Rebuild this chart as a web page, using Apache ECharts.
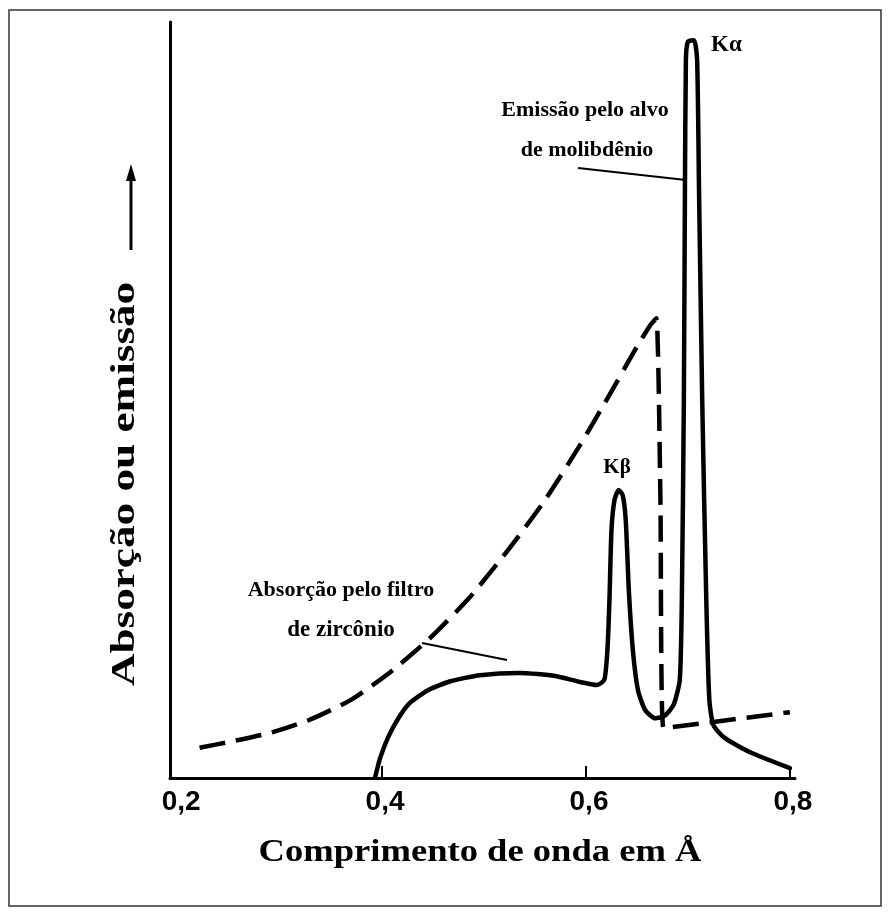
<!DOCTYPE html>
<html>
<head>
<meta charset="utf-8">
<script src="https://cdn.jsdelivr.net/npm/echarts@6/dist/echarts.min.js"></script>
<style>
  html, body { margin: 0; padding: 0; background: #fff; }
  #chart { width: 891px; height: 916px; }
</style>
</head>
<body>
<div id="chart"></div>
<script>
// Wavelength (Å) and relative intensity (0–100) for the Mo target emission spectrum
const emissionWavelength = [0.393, 0.398, 0.406, 0.416, 0.427, 0.445, 0.467, 0.496, 0.535, 0.570, 0.594, 0.611,
  0.618, 0.621, 0.623, 0.625, 0.628, 0.632, 0.636, 0.639, 0.642, 0.646, 0.651, 0.658, 0.668, 0.677, 0.686,
  0.692, 0.694, 0.696, 0.697, 0.698, 0.700, 0.706, 0.709, 0.711, 0.714, 0.718, 0.721, 0.725, 0.736, 0.761, 0.800];
const emissionIntensity = [0, 2.6, 5.4, 7.9, 9.9, 11.6, 12.8, 13.6, 13.9, 13.5, 12.7, 12.3,
  13.0, 16.9, 23.5, 32.8, 36.8, 38.1, 37.4, 34.1, 24.9, 16.9, 11.6, 9.0, 7.9, 8.2, 9.7,
  13.0, 23.5, 50, 76.5, 95, 97.4, 97.6, 95, 76.5, 50, 23.5, 10.3, 7.0, 5.3, 3.4, 1.3];

// Zr filter absorption curve with its K absorption edge
const absorptionWavelength = [0.221, 0.251, 0.291, 0.329, 0.369, 0.408, 0.447, 0.486, 0.525, 0.560, 0.594,
  0.624, 0.648, 0.663, 0.669, 0.673, 0.676, 0.800];
const absorptionIntensity = [4.0, 4.8, 6.0, 7.7, 10.3, 14.0, 18.5, 23.9, 30.4, 36.8, 44.0,
  50.9, 56.6, 59.9, 60.8, 36.8, 6.6, 8.7];

const tickValues = [0.4, 0.6, 0.8];
const labelValues = [0.2, 0.4, 0.6, 0.8];

const serif = '"Liberation Serif", "DejaVu Serif", serif';
const sans = '"Liberation Sans", Arial, sans-serif';

const pairs = (xs, ys) => xs.map((x, i) => [x, ys[i]]);

const chart = echarts.init(document.getElementById('chart'), null, { renderer: 'canvas' });

chart.setOption({
  backgroundColor: '#fff',
  animation: false,
  grid: { left: 170, top: 22, right: 96, bottom: 138 },
  xAxis: {
    type: 'value',
    min: 0.192,
    max: 0.805,
    splitLine: { show: false },
    axisLine: { show: true, lineStyle: { color: '#000', width: 3 } },
    axisTick: {
      show: true, inside: true, length: 12,
      customValues: tickValues,
      lineStyle: { color: '#000', width: 2 }
    },
    axisLabel: {
      customValues: labelValues,
      margin: 10,
      padding: [0, 0, 0, 6],
      color: '#000',
      fontFamily: sans,
      fontWeight: 'bold',
      fontSize: 28,
      formatter: v => v.toFixed(1).replace('.', ',')
    }
  },
  yAxis: {
    type: 'value',
    min: 0,
    max: 100,
    splitLine: { show: false },
    axisLine: { show: true, lineStyle: { color: '#000', width: 3 } },
    axisTick: { show: false },
    axisLabel: { show: false }
  },
  series: [
    {
      name: 'Emissão pelo alvo de molibdênio',
      type: 'line',
      data: pairs(emissionWavelength, emissionIntensity),
      symbol: 'none',
      smooth: 0.2,
      lineStyle: { color: '#000', width: 4.5, type: 'solid', join: 'round', cap: 'round' }
    },
    {
      name: 'Absorção pelo filtro de zircônio',
      type: 'line',
      data: pairs(absorptionWavelength, absorptionIntensity),
      symbol: 'none',
      smooth: 0.2,
      lineStyle: { color: '#000', width: 4.5, type: [26, 11], join: 'round' }
    }
  ],
  graphic: [
    // page frame
    { type: 'rect', shape: { x: 9, y: 10, width: 872, height: 896 },
      style: { fill: null, stroke: '#333', lineWidth: 1.5 }, silent: true },
    // axis titles (wide bold serif)
    { type: 'text', x: 480, y: 853, scaleX: 1.18,
      style: { text: 'Comprimento de onda em Å', fill: '#000', font: 'bold 31px ' + serif,
        align: 'center', verticalAlign: 'middle' } },
    { type: 'text', x: 125, y: 484, rotation: Math.PI / 2, scaleX: 1.37,
      style: { text: 'Absorção ou emissão', fill: '#000', font: 'bold 33px ' + serif,
        align: 'center', verticalAlign: 'middle' } },
    // upward arrow beside the vertical title
    { type: 'line', shape: { x1: 131, y1: 250, x2: 131, y2: 178 },
      style: { stroke: '#000', lineWidth: 3 } },
    { type: 'polygon', shape: { points: [[131, 164], [126, 181], [136, 181]] },
      style: { fill: '#000' } },
    // annotations
    { type: 'text', x: 585, y: 110,
      style: { text: 'Emissão pelo alvo', fill: '#000', font: 'bold 22px ' + serif,
        align: 'center', verticalAlign: 'middle' } },
    { type: 'text', x: 587, y: 150,
      style: { text: 'de molibdênio', fill: '#000', font: 'bold 22px ' + serif,
        align: 'center', verticalAlign: 'middle' } },
    { type: 'line', shape: { x1: 578, y1: 168, x2: 686, y2: 180 },
      style: { stroke: '#000', lineWidth: 2 } },
    { type: 'text', x: 711, y: 45,
      style: { text: 'Kα', fill: '#000', font: 'bold 23px ' + serif,
        align: 'left', verticalAlign: 'middle' } },
    { type: 'text', x: 617, y: 468,
      style: { text: 'Kβ', fill: '#000', font: 'bold 21px ' + serif,
        align: 'center', verticalAlign: 'middle' } },
    { type: 'text', x: 341, y: 590,
      style: { text: 'Absorção pelo filtro', fill: '#000', font: 'bold 22px ' + serif,
        align: 'center', verticalAlign: 'middle' } },
    { type: 'text', x: 341, y: 630,
      style: { text: 'de zircônio', fill: '#000', font: 'bold 23px ' + serif,
        align: 'center', verticalAlign: 'middle' } },
    { type: 'line', shape: { x1: 422, y1: 643, x2: 507, y2: 660 },
      style: { stroke: '#000', lineWidth: 2 } }
  ]
});
</script>
</body>
</html>
